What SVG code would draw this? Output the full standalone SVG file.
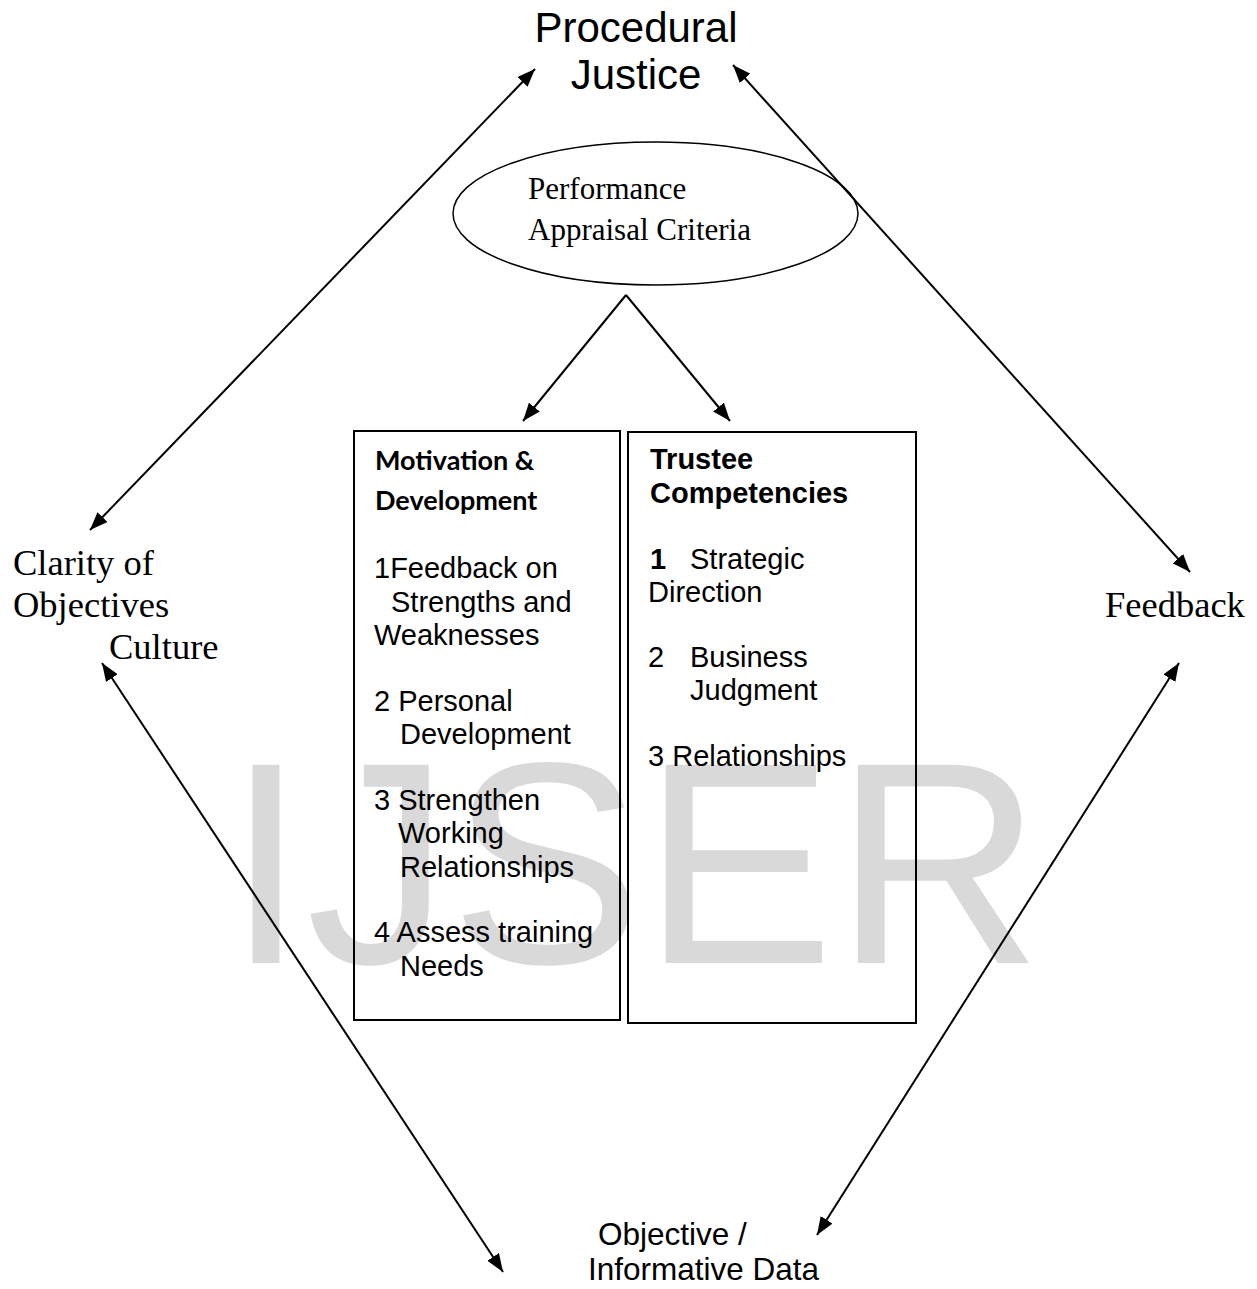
<svg xmlns="http://www.w3.org/2000/svg" width="1257" height="1289" viewBox="0 0 1257 1289">
<style>
.serif{font-family:"Liberation Serif","Times New Roman",serif;fill:#000}
.sans{font-family:"Liberation Sans",Arial,sans-serif;fill:#000}
.calb{font-family:Lato,"Liberation Sans",sans-serif;font-weight:bold;fill:#000}
.box{fill:none;stroke:#000;stroke-width:2}
.conn{stroke:#000;stroke-width:2;fill:none}
</style>
<defs>
<marker id="ah" viewBox="0 0 18 14" refX="18" refY="7" markerWidth="18" markerHeight="14" markerUnits="userSpaceOnUse" orient="auto-start-reverse">
<path d="M0,0 L18,7 L0,14 z" fill="#000"/>
</marker>
</defs>
<rect width="1257" height="1289" fill="#fff"/>
<text x="226" y="963" class="sans" font-size="288" style="fill:#d9d9d9">IJSER</text>

<g id="procedural-justice">
<text class="sans" font-size="42" text-anchor="middle" x="636" y="42">Procedural</text>
<text class="sans" font-size="42" text-anchor="middle" x="636" y="89">Justice</text>
</g>

<g id="appraisal-criteria">
<ellipse cx="655.5" cy="213.5" rx="202.5" ry="71.5" fill="none" stroke="#000" stroke-width="1.5"/>
<text class="serif" font-size="31" x="528" y="199">Performance</text>
<text class="serif" font-size="31" x="528" y="240">Appraisal Criteria</text>
</g>

<g id="motivation-development">
<rect class="box" x="354" y="431" width="266" height="589"/>
<text class="calb" font-size="27" x="375" y="470">Motivation &amp;</text>
<text class="calb" font-size="27" x="375" y="510">Development</text>
<text class="sans" font-size="29" x="374" y="578">1Feedback on</text>
<text class="sans" font-size="29" x="391" y="612">Strengths and</text>
<text class="sans" font-size="29" x="374" y="645">Weaknesses</text>
<text class="sans" font-size="29" x="374" y="711">2 Personal</text>
<text class="sans" font-size="29" x="400" y="744">Development</text>
<text class="sans" font-size="29" x="374" y="810">3 Strengthen</text>
<text class="sans" font-size="29" x="398" y="843">Working</text>
<text class="sans" font-size="29" x="400" y="877">Relationships</text>
<text class="sans" font-size="29" x="374" y="942">4 Assess training</text>
<text class="sans" font-size="29" x="400" y="976">Needs</text>
</g>

<g id="trustee-competencies">
<rect class="box" x="628" y="432" width="288" height="591"/>
<text class="sans" font-size="29" font-weight="bold" x="650" y="469">Trustee</text>
<text class="sans" font-size="29" font-weight="bold" x="650" y="503">Competencies</text>
<text class="sans" font-size="29" x="650" y="569"><tspan font-weight="bold">1</tspan><tspan x="690">Strategic</tspan></text>
<text class="sans" font-size="29" x="648" y="602">Direction</text>
<text class="sans" font-size="29" x="648" y="667">2<tspan x="690">Business</tspan></text>
<text class="sans" font-size="29" x="690" y="700">Judgment</text>
<text class="sans" font-size="29" x="648" y="766">3 Relationships</text>
</g>

<g id="clarity-culture">
<text class="serif" font-size="36.5" x="13" y="575">Clarity of</text>
<text class="serif" font-size="36.5" x="13" y="617">Objectives</text>
<text class="serif" font-size="36.5" x="109" y="659">Culture</text>
</g>

<g id="feedback">
<text class="serif" font-size="36.5" x="1105" y="617">Feedback</text>
</g>

<g id="objective-data">
<text class="sans" font-size="31.5" x="598" y="1245">Objective /</text>
<text class="sans" font-size="31.5" x="588" y="1280">Informative Data</text>
</g>

<g id="connectors">
<line class="conn" x1="90" y1="530" x2="535" y2="69" marker-start="url(#ah)" marker-end="url(#ah)"/>
<line class="conn" x1="1190" y1="572" x2="733" y2="65" marker-start="url(#ah)" marker-end="url(#ah)"/>
<line class="conn" x1="102" y1="663" x2="503" y2="1272" marker-start="url(#ah)" marker-end="url(#ah)"/>
<line class="conn" x1="1179" y1="663" x2="817" y2="1235" marker-start="url(#ah)" marker-end="url(#ah)"/>
<line class="conn" x1="626" y1="295" x2="523" y2="421" marker-end="url(#ah)"/>
<line class="conn" x1="626" y1="295" x2="730" y2="421" marker-end="url(#ah)"/>
</g>
</svg>
